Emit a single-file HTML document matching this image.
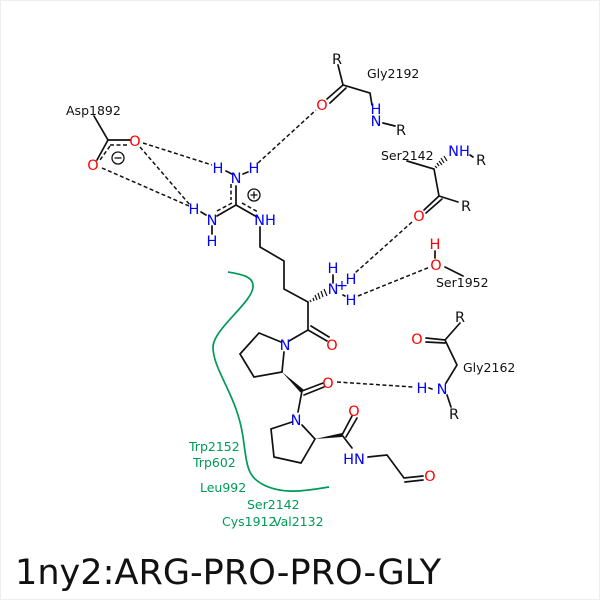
<!DOCTYPE html>
<html><head><meta charset="utf-8"><style>
html,body{margin:0;padding:0;background:#fff}
svg{display:block}
text{font-family:"DejaVu Sans",sans-serif}
.l{font-size:12.5px;fill:#111}
.g{font-size:12.5px;fill:#009a55}
.a{font-size:14.5px;text-anchor:middle;dominant-baseline:central;transform:translateY(1px)}
.b{fill:#00f}.r{fill:#f00}.k{fill:#111}
</style></head><body>
<svg width="600" height="600" viewBox="0 0 600 600" xmlns="http://www.w3.org/2000/svg">
<rect x="0.5" y="0.5" width="599" height="599" fill="#fff" stroke="#eee"/>
<g fill="none" stroke="#111" stroke-width="1.7" stroke-linecap="round">
<path d="M94 116L108 140L130 140M108 140L97 160"/>
<path d="M338 65L343 85L370 93L372 105M343 85L327 99M346 88L330 103M383 123L395 126"/>
<path d="M407 161L434 169L439 196L458 202M439 196L424 210M442 199L426 213M470 155L473 157"/>
<path d="M236 186V205L217 216M236 205L257 217M260 227V247L284 261V289L308 302V330L289 341M308 330L327 341M311 326L329 337"/>
<path d="M226 171L232 174M248 172L243 174M212 226V234M201 212L206 215"/>
<path d="M333 275V283M343 295L345 296M435 251V258M445 267L463 276"/>
<path d="M281 342L259 333L240 354L254 377L282 372L284 352"/>
<path d="M302 391L323 383M304 395L324 387M302 391L298 412"/>
<path d="M292 422L271 429L274 457L301 463L315 439L302 425"/>
<path d="M342 435L352 416M346 437L357 418M342 435L352 448M368 457L387 455L404 478L423 476M405 482L423 480"/>
<path d="M426 338L445 340L460 323M426 342L445 343M445 340L457 365L446 383M447 395L451 407M429 388L432 389"/>
</g>
<g fill="none" stroke="#111" stroke-width="1.5" stroke-dasharray="4 2.5">
<path d="M110 145H129M110 146L100 160"/>
<path d="M231 184V200M232 203L217 211M242 203L258 212"/>
<path d="M143 143L212 165M140 147L190 205M102 168L189 206M258 163L316 110"/>
<path d="M412 222L355 273M358 296L430 267M337 382L413 387"/>
</g>
<polygon points="282,372 300.5,392.5 303.5,389.5" fill="#111"/>
<polygon points="315,439 342,433 342,437" fill="#111"/>
<g stroke="#111" stroke-width="1.2">
<path d="M437 168L435 166M439 166L437 163M442 165L439 161M444 163L441 158M447 161L444 156"/>
<path d="M311 302L310 300M314 301L313 298M317 300L315 295M320 299L318 293M323 297L321 291M327 296L324 289"/>
</g>
<path d="M228 272C240 274 254 276 253 287C252 303 212 330 213 348C214 372 237 395 243 437C247 465 247 476 262 484C282 495 305 491 329 487" fill="none" stroke="#009a55" stroke-width="1.7"/>
<text class="a r" x="135" y="141">O</text>
<text class="a r" x="93" y="165">O</text>
<circle cx="118" cy="158" r="6" fill="none" stroke="#111" stroke-width="1.3"/><path d="M114.5 158H121.5" stroke="#111" stroke-width="1.3"/>
<circle cx="254" cy="195" r="6" fill="none" stroke="#111" stroke-width="1.3"/><path d="M250.5 195H257.5M254 191.5V198.5" stroke="#111" stroke-width="1.3"/>
<text class="a b" x="218" y="168">H</text>
<text class="a b" x="254" y="168">H</text>
<text class="a b" x="236" y="178">N</text>
<text class="a b" x="194" y="209">H</text>
<text class="a b" x="212" y="220">N</text>
<text class="a b" x="212" y="241">H</text>
<text class="a b" x="265" y="220">NH</text>
<text class="a r" x="322" y="105">O</text>
<text class="a k" x="337" y="59">R</text>
<text class="a b" x="376" y="109">H</text>
<text class="a b" x="376" y="121">N</text>
<text class="a k" x="401" y="130">R</text>
<text class="a b" x="459" y="151">NH</text>
<text class="a k" x="481" y="160">R</text>
<text class="a r" x="419" y="216">O</text>
<text class="a k" x="466" y="206">R</text>
<text class="a r" x="435" y="244">H</text>
<text class="a r" x="436" y="265">O</text>
<text class="a b" x="333" y="268">H</text>
<text class="a b" x="333" y="289">N</text>
<text class="a b" x="342" y="285">+</text>
<text class="a b" x="351" y="279">H</text>
<text class="a b" x="351" y="300">H</text>
<text class="a r" x="332" y="345">O</text>
<text class="a b" x="285" y="345">N</text>
<text class="a r" x="328" y="383">O</text>
<text class="a b" x="296" y="420">N</text>
<text class="a r" x="354" y="411">O</text>
<text class="a b" x="354" y="459">HN</text>
<text class="a r" x="430" y="476">O</text>
<text class="a r" x="417" y="339">O</text>
<text class="a k" x="460" y="317">R</text>
<text class="a b" x="422" y="388">H</text>
<text class="a b" x="442" y="389">N</text>
<text class="a k" x="454" y="414">R</text>
<text class="l" x="66" y="115">Asp1892</text>
<text class="l" x="367" y="78">Gly2192</text>
<text class="l" x="381" y="160">Ser2142</text>
<text class="l" x="436" y="287">Ser1952</text>
<text class="l" x="463" y="372">Gly2162</text>
<text class="g" x="189" y="451">Trp2152</text>
<text class="g" x="193" y="467">Trp602</text>
<text class="g" x="200" y="492">Leu992</text>
<text class="g" x="247" y="509">Ser2142</text>
<text class="g" x="222" y="526">Cys1912</text>
<text class="g" x="273" y="526">Val2132</text>
<text x="15" y="584" font-size="35" fill="#111" textLength="426" lengthAdjust="spacingAndGlyphs">1ny2:ARG-PRO-PRO-GLY</text>
</svg>
</body></html>
